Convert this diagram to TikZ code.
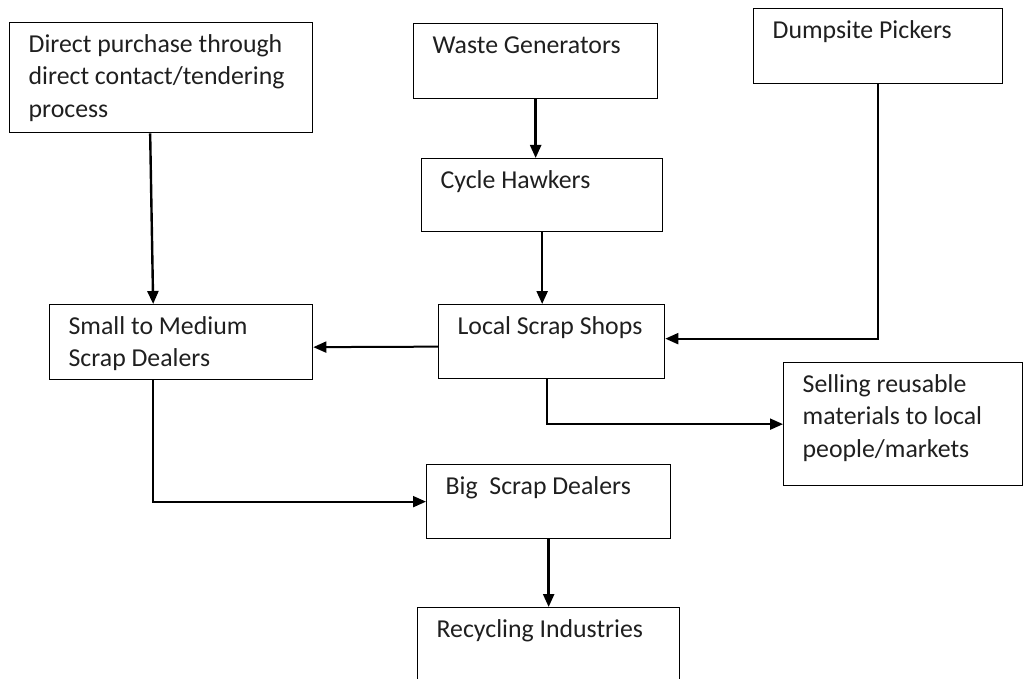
\documentclass[tikz,border=0pt]{standalone}
\usepackage{fontspec}
\setmainfont{Carlito}
\usetikzlibrary{arrows.meta}

% box text: width, height, lines
\newcommand{\stagebody}[3]{\parbox[c][#2][t]{#1}{\raggedright\leftskip=19bp\vspace*{7bp}\strut#3}}

\begin{document}
\begin{tikzpicture}[x=1bp, y=-1bp, >={Triangle[length=13bp, width=11bp]},
    stage/.style={draw, line width=1.3bp, anchor=north west, inner sep=0pt,
      font=\fontsize{25.8bp}{32.5bp}\selectfont, text=black!88},
    flow/.style={->, line width=2bp},
    feed/.style={->, line width=2.4bp}]
    \clip (0,0) rectangle (1034,679);

    \node[stage] (purchase) at (9,22) {\stagebody{303bp}{110bp}{Direct purchase through\\direct contact/tendering\\process}};
    \node[stage] (waste) at (413,23) {\stagebody{244bp}{75bp}{Waste Generators}};
    \node[stage] (dump) at (753,8) {\stagebody{249bp}{75bp}{Dumpsite Pickers}};
    \node[stage] (cycle) at (421,158) {\stagebody{241bp}{73bp}{Cycle Hawkers}};
    \node[stage] (small) at (49,304) {\stagebody{263bp}{75bp}{Small to Medium\\Scrap Dealers}};
    \node[stage] (local) at (438,304) {\stagebody{226bp}{74bp}{Local Scrap Shops}};
    \node[stage] (selling) at (783,362) {\stagebody{239bp}{123bp}{Selling reusable\\materials to local\\people/markets}};
    \node[stage] (big) at (426,464) {\stagebody{244bp}{74bp}{Big~ Scrap Dealers}};
    \node[stage] (recycle) at (417,607) {\stagebody{262bp}{90bp}{Recycling Industries}};

    \draw[feed] ([xshift=-11bp]purchase.south) -- ([xshift=-28bp]small.north);
    \draw[feed] (waste.south) -- (waste.south |- cycle.north);
    \draw[feed] (cycle.south) -- (cycle.south |- local.north);
    \draw[flow] ([yshift=-5bp]local.west) -- ([yshift=-5bp]small.east);
    \draw[flow] (dump.south) |- ([yshift=3bp]local.east);
    \draw[flow] ([xshift=-5bp]local.south) |- (selling.west);
    \draw[flow] ([xshift=-28bp]small.south) |- (big.west);
    \draw[feed] (big.south) -- (big.south |- recycle.north);
\end{tikzpicture}
\end{document}
